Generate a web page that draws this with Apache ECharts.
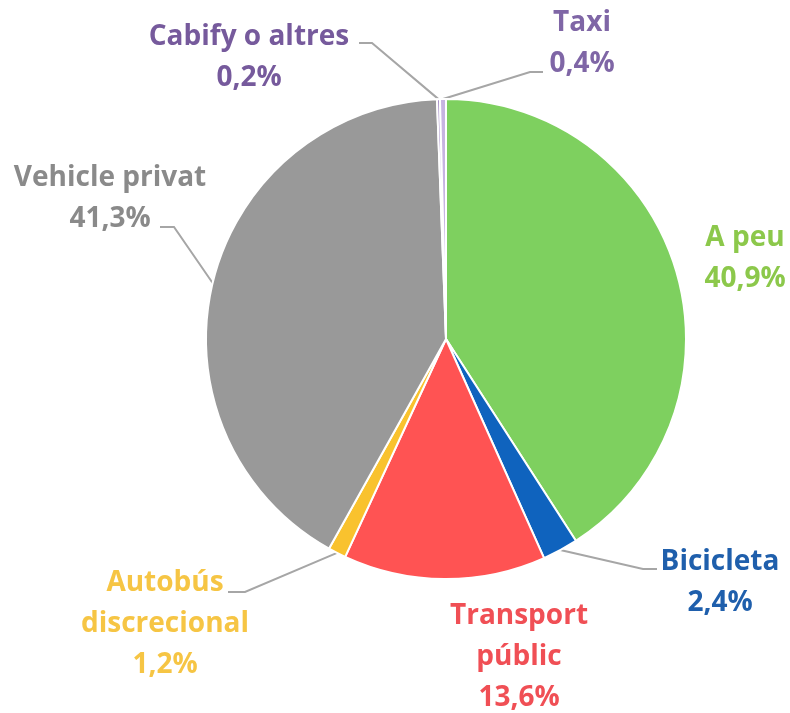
<!DOCTYPE html>
<html>
<head>
<meta charset="utf-8">
<script src="https://cdn.jsdelivr.net/npm/echarts@6/dist/echarts.min.js"></script>
<style>
  html, body { margin: 0; padding: 0; background: #fff; }
  #chart { width: 790px; height: 713px; }
</style>
</head>
<body>
<div id="chart"></div>
<script>
// clockwise from 12 o'clock
const categories = ['A peu', 'Bicicleta', 'Transport\npúblic', 'Autobús\ndiscrecional', 'Vehicle privat', 'Cabify o altres', 'Taxi']
const shares = [40.9, 2.4, 13.6, 1.2, 41.3, 0.2, 0.4]

const sliceColors = ['#7ed05f', '#0f63be', '#ff5353', '#f9c22e', '#999999', '#a58fc7', '#c7b4e2']
const textColors = ['#8cc84b', '#1f5fac', '#f04f55', '#f6c544', '#8a8a8a', '#765a9c', '#7f66a6']

// label placement: block centre, and leader elbow / end (null = no leader)
const labelPlace = [
  { x: 745, y: 259, line: null },
  { x: 720, y: 583, line: [[643, 569], [657, 569]] },
  { x: 519, y: 657, line: null },
  { x: 165, y: 624, line: [[245, 592], [228, 592]] },
  { x: 110, y: 199, line: [[174, 227], [160, 227]] },
  { x: 249, y: 58, line: [[372, 43], [359, 43]] },
  { x: 582, y: 44, line: [[530, 72], [543, 72]] }
]

const fmt = (v) => v.toFixed(1).replace('.', ',') + '%'

const chart = echarts.init(document.getElementById('chart'))

const option = {
  animation: false,
  series: [
    {
      type: 'pie',
      center: [446, 339],
      radius: 240,
      startAngle: 90,
      clockwise: true,
      avoidLabelOverlap: false,
      itemStyle: {
        borderColor: '#fff',
        borderWidth: 2
      },
      label: {
        show: true,
        position: 'outside',
        fontFamily: 'Open Sans',
        fontWeight: 'bold',
        fontSize: 28,
        lineHeight: 41,
        align: 'center',
        formatter: (p) => p.name + '\n' + fmt(p.value)
      },
      labelLine: {
        show: true,
        lineStyle: { color: '#a6a6a6', width: 2 }
      },
      labelLayout: function (params) {
        const pl = labelPlace[params.dataIndex]
        const res = {
          x: pl.x,
          y: pl.y,
          align: 'center',
          verticalAlign: 'middle',
          hideOverlap: false
        }
        if (pl.line && params.labelLinePoints) {
          res.labelLinePoints = [params.labelLinePoints[0], pl.line[0], pl.line[1]]
        }
        return res
      },
      data: categories.map((name, i) => ({
        name: name,
        value: shares[i],
        itemStyle: { color: sliceColors[i] },
        label: { color: textColors[i] },
        labelLine: { show: labelPlace[i].line !== null }
      }))
    }
  ]
}

chart.setOption(option)
</script>
</body>
</html>
